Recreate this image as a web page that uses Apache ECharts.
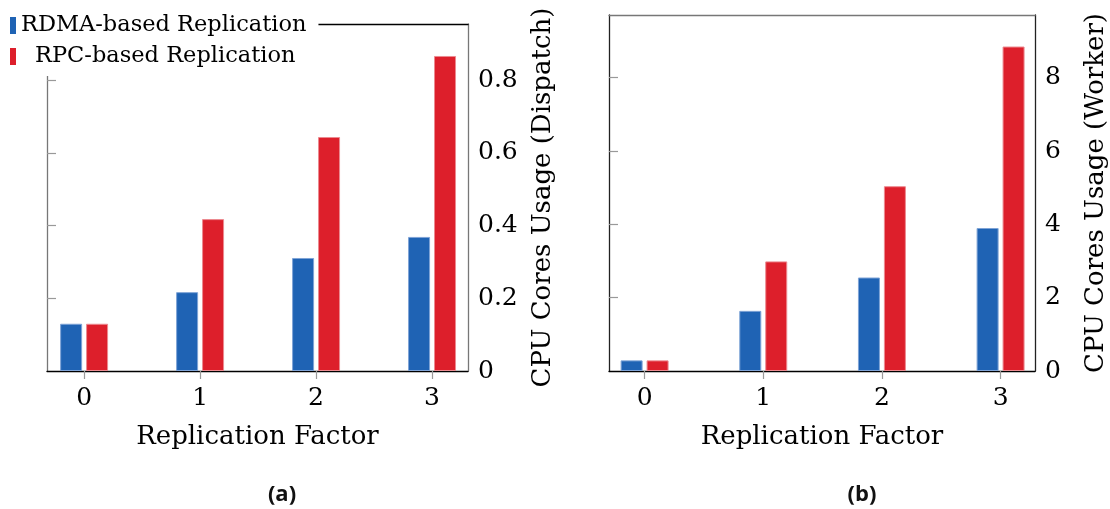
<!DOCTYPE html>
<html>
<head>
<meta charset="utf-8">
<script src="https://cdn.jsdelivr.net/npm/echarts@6/dist/echarts.min.js"></script>
<style>
html,body{margin:0;padding:0;background:#fff;}
#chart{width:1110px;height:509px;}
</style>
</head>
<body>
<div id="chart"></div>
<script>
// ---- data ----
const categories = [0, 1, 2, 3];
const seriesNames = ['RDMA-based Replication', 'RPC-based Replication'];
const rdmaDispatch = [0.13, 0.217, 0.311, 0.369];
const rpcDispatch  = [0.13, 0.418, 0.644, 0.867];
const rdmaWorker   = [0.29, 1.64, 2.55, 3.90];
const rpcWorker    = [0.29, 2.99, 5.04, 8.85];
const ticksDispatch = [0, 0.2, 0.4, 0.6, 0.8];
const ticksWorker   = [0, 2, 4, 6, 8];
const xTitle = 'Replication Factor';
const yTitleA = 'CPU Cores Usage (Dispatch)';
const yTitleB = 'CPU Cores Usage (Worker)';
const captions = ['(a)', '(b)'];

const BLUE = '#1f63b4';
const RED = '#dd1f2b';
const SERIF = '"DejaVu Serif", serif';
const FS_NAME = 26;
const FS_TICK = 25;
const FS_LEG = 22.5;

const pairs = (vals) => categories.map((c, i) => [c, vals[i]]);

function xAxes(grid, min, max, topColor) {
  return [
    {
      type: 'value', gridIndex: grid, position: 'bottom', min: min, max: max,
      axisLine: {show: true, onZero: false, lineStyle: {color: '#000', width: 1.3}},
      axisTick: {show: true, customValues: categories, length: 8, lineStyle: {color: '#999', width: 1.2}},
      axisLabel: {customValues: categories, margin: 15, color: '#000', fontFamily: SERIF, fontSize: FS_TICK},
      splitLine: {show: false},
      name: xTitle, nameLocation: 'middle', nameGap: 53,
      nameTextStyle: {color: '#000', fontFamily: SERIF, fontSize: FS_NAME}
    },
    {
      type: 'value', gridIndex: grid, position: 'top', min: min, max: max,
      axisLine: {show: true, onZero: false, lineStyle: {color: topColor, width: 1.3}},
      axisTick: {show: false}, axisLabel: {show: false}, splitLine: {show: false}
    }
  ];
}

function yAxes(grid, max, ticks, title, gap, color) {
  return [
    {
      type: 'value', gridIndex: grid, position: 'right', min: 0, max: max,
      axisLine: {show: true, onZero: false, lineStyle: {color: color, width: 1.3}},
      axisTick: {show: false},
      axisLabel: {customValues: ticks, margin: 10, color: '#000', fontFamily: SERIF, fontSize: FS_TICK},
      splitLine: {show: false},
      name: title, nameLocation: 'middle', nameGap: gap,
      nameTextStyle: {color: '#000', fontFamily: SERIF, fontSize: FS_NAME}
    },
    {
      type: 'value', gridIndex: grid, position: 'left', min: 0, max: max,
      axisLine: {show: true, onZero: false, lineStyle: {color: color, width: 1.3}},
      axisTick: {show: true, inside: true, customValues: ticks.slice(1), length: 9, lineStyle: {color: '#999', width: 1.2}},
      axisLabel: {show: false}, splitLine: {show: false}
    }
  ];
}

function bar(name, data, color, border, xi, yi) {
  return {
    type: 'bar', name: name, xAxisIndex: xi, yAxisIndex: yi,
    data: pairs(data), barWidth: 22, barGap: '18%',
    itemStyle: {color: color, borderColor: border, borderWidth: 1},
    emphasis: {disabled: true}
  };
}

const chart = echarts.init(document.getElementById('chart'), null, {renderer: 'canvas'});
chart.setOption({
  animation: false,
  backgroundColor: '#fff',
  grid: [
    {left: 47, top: 24, width: 421, height: 347},
    {left: 609, top: 15, width: 428, height: 356}
  ],
  xAxis: [].concat(xAxes(0, -0.32, 3.31, '#000'), xAxes(1, -0.30, 3.29, '#777')),
  yAxis: [].concat(yAxes(0, 0.955, ticksDispatch, yTitleA, 62, '#777'), yAxes(1, 9.71, ticksWorker, yTitleB, 48, '#222')),
  legend: {
    left: 0, top: 0, orient: 'vertical', z: 20,
    backgroundColor: '#fff',
    padding: [14, 12, 8, 10],
    itemWidth: 6, itemHeight: 17, itemGap: 8,
    icon: 'rect',
    itemStyle: {borderWidth: 0},
    selectedMode: false,
    data: seriesNames,
    formatter: (n) => n === seriesNames[1] ? '{p|}' + n : n,
    textStyle: {color: '#000', fontFamily: SERIF, fontSize: FS_LEG, rich: {p: {width: 14}}}
  },
  graphic: [
    {type: 'text', x: 282, y: 495, style: {text: captions[0], textAlign: 'center', textVerticalAlign: 'middle', font: 'bold 22px "Open Sans"', fill: '#111'}},
    {type: 'text', x: 862, y: 495, style: {text: captions[1], textAlign: 'center', textVerticalAlign: 'middle', font: 'bold 22px "Open Sans"', fill: '#111'}}
  ],
  series: [
    bar(seriesNames[0], rdmaDispatch, BLUE, '#7ea3d6', 0, 0),
    bar(seriesNames[1], rpcDispatch, RED, '#ec8a90', 0, 0),
    bar(seriesNames[0], rdmaWorker, BLUE, '#7ea3d6', 2, 2),
    bar(seriesNames[1], rpcWorker, RED, '#ec8a90', 2, 2)
  ]
});
</script>
</body>
</html>
